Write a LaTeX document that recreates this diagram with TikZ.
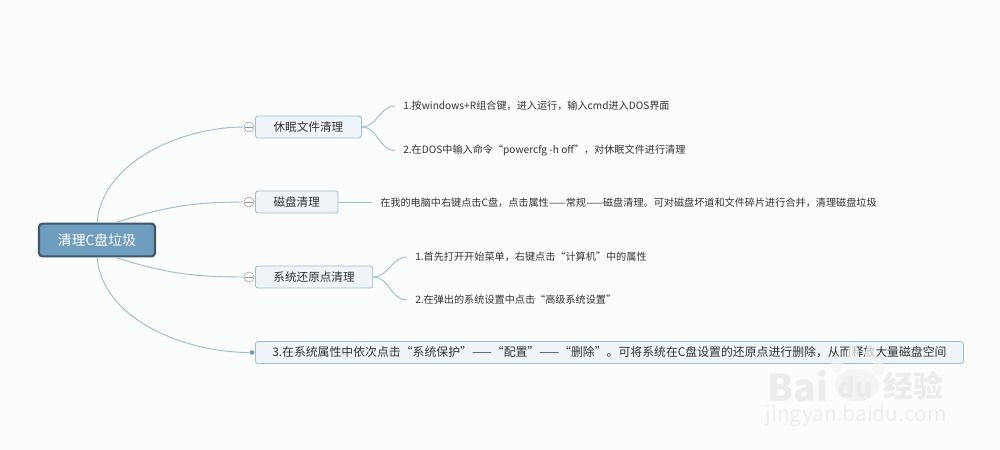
\documentclass[tikz,border=0pt]{standalone}
\usepackage{fontspec}
\setmainfont{Noto Sans CJK SC}
\usepackage{xcolor}
\usetikzlibrary{positioning, arrows.meta, calc}
\definecolor{fondo}{HTML}{FBFCFC}
\definecolor{linha}{HTML}{9DBDD3}
\definecolor{caixa}{HTML}{EEF4F8}
\definecolor{raiz}{HTML}{6F9DBE}
\definecolor{raizborda}{HTML}{40586C}
\definecolor{marca}{HTML}{ECECEC}
\definecolor{palma}{HTML}{F4F4F4}
\tikzset{
  rootbox/.style={draw=raizborda, fill=raiz, line width=1.6pt, rounded corners=2.5pt, text=white,
    font=\fontsize{10.4}{12}\selectfont, minimum width=87pt, minimum height=24.5pt, inner sep=0pt},
  branchbox/.style={draw=linha, fill=caixa, line width=0.6pt, rounded corners=2pt, text=black!80,
    font=\fontsize{8.7}{10}\selectfont, minimum height=16.5pt, inner sep=0pt, anchor=west},
  leaftext/.style={text=black!80, font=\fontsize{7.6}{9}\selectfont, inner ysep=0pt, inner xsep=6pt, anchor=west},
  foldmark/.style={circle, draw=black!40, fill=white, line width=0.4pt, minimum size=7.5pt, inner sep=0pt},
  link/.style={draw=linha, line width=0.7pt},
  stamp/.style={text=marca, inner sep=0pt}
}
\begin{document}
\begin{tikzpicture}[x=0.75pt, y=-0.75pt]
    \useasboundingbox[fill=fondo] (0,0) rectangle (1000,450);
    % central
    \node[rootbox] (root) at (97,240) {清理C盘垃圾};
    % ramos
    \node[branchbox, minimum width=79.5pt] (sono) at (255,127) {休眠文件清理};
    \node[branchbox, minimum width=62pt] (disco) at (255,202) {磁盘清理};
    \node[branchbox, minimum width=88pt] (sistema) at (255,277) {系统还原点清理};
    \node[branchbox, minimum width=531pt, align=center, font=\fontsize{8.9}{10}\selectfont] (passo) at (255,352.5)
      {3.在系统属性中依次点击“系统保护”——“配置”——“删除”。可将系统在C盘设置的还原点进行删除，从而释放大量磁盘空间};
    % marcas de dobra
    \node[foldmark] (fsono) at (249,127) {};
    \node[foldmark] (fdisco) at (249,202) {};
    \node[foldmark] (fsistema) at (249,277) {};
    \node[circle, fill=raiz, minimum size=3.5pt, inner sep=0pt] (fpasso) at (252,352.5) {};
    \foreach \marca in {fsono, fdisco, fsistema}
      \draw[black!40, line width=0.4pt] ($(\marca.west)+(1,0)$) -- ($(\marca.east)+(-1,0)$);
    % textos
    \node[leaftext] (sonoa) at (395,106) {1.按windows+R组合键，进入运行，输入cmd进入DOS界面};
    \node[leaftext] (sonob) at (395,150.5) {2.在DOS中输入命令“powercfg -h off”，对休眠文件进行清理};
    \node[leaftext] (discoa) at (372,202.5) {在我的电脑中右键点击C盘，点击属性——常规——磁盘清理。可对磁盘坏道和文件碎片进行合并，清理磁盘垃圾};
    \node[leaftext] (sistemaa) at (407,257) {1.首先打开开始菜单，右键点击“计算机”中的属性};
    \node[leaftext] (sistemab) at (407,300) {2.在弹出的系统设置中点击“高级系统设置”};
    % ligacoes
    \draw[link] (root.north) to[out=85, in=180, looseness=0.9] (fsono.west);
    \draw[link] ([xshift=14pt]root.north) to[out=18, in=180] (fdisco.west);
    \draw[link] ([xshift=14pt]root.south) to[out=-18, in=180] (fsistema.west);
    \draw[link] (root.south) to[out=-85, in=180, looseness=0.9] (fpasso.west);
    \foreach \de/\para in {sono/sonoa, sono/sonob, sistema/sistemaa, sistema/sistemab}
      \draw[link] (\de.east) to[out=0, in=180] (\para.west);
    \draw[link] (disco.east) -- (disco.east -| discoa.west);
    % marca de agua
    \fill[palma, opacity=0.75] (837,365) ellipse (6 and 8) (853,354) ellipse (6 and 9) (871,354) ellipse (6 and 9) (878,368) ellipse (6 and 8);
    \fill[palma] (857,385) ellipse (22 and 16);
    \node[stamp, font=\fontsize{28}{30}\selectfont\bfseries] (wmbai) at (798,386) {Bai};
    \node[stamp, font=\fontsize{20}{24}\selectfont\bfseries] (wmdu) at (855,387) {du};
    \node[stamp, font=\fontsize{22.5}{26}\selectfont\bfseries] (wmjy) at (913,386) {经验};
    \node[stamp, font=\fontsize{15.7}{18}\selectfont] (wmurl) at (856,416) {jingyan.baidu.com};
  \end{tikzpicture}
\end{document}
